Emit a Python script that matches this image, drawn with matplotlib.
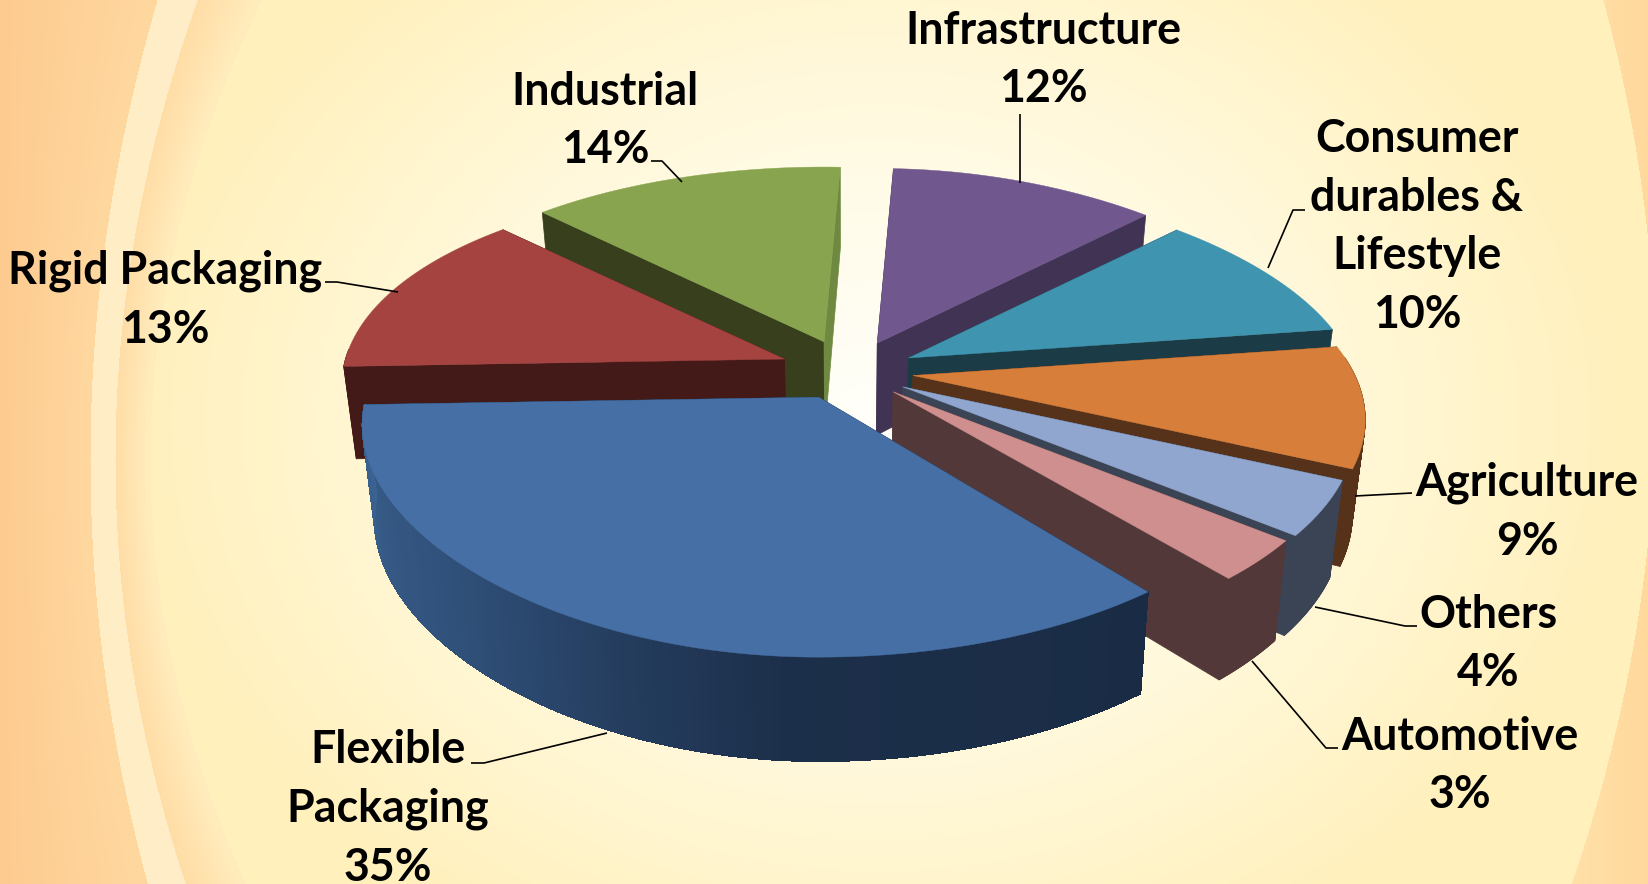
"""Exploded 3D pie of end-use segments, drawn by hand since matplotlib has no 3D pie."""

from __future__ import annotations

import matplotlib

matplotlib.use("Agg")
import matplotlib.pyplot as plt
import numpy as np
from matplotlib.collections import PolyCollection
from matplotlib.colors import LinearSegmentedColormap, to_rgb

# clockwise from the right-hand edge of the big slice
SEGMENTS = [
    "Flexible\nPackaging",
    "Rigid Packaging",
    "Industrial",
    "Infrastructure",
    "Consumer\ndurables &\nLifestyle",
    "Agriculture",
    "Others",
    "Automotive",
]
SHARES = [35, 13, 14, 12, 10, 9, 4, 3]

TOP_COLORS = ["#4670A5", "#A54341", "#88A44F", "#70578D", "#3F95B0", "#D77F3A", "#90A6CE", "#CE8F8E"]
WALL_COLORS = ["#1A2C45", "#431A18", "#373F1C", "#413353", "#1B3C47", "#56321A", "#3B4454", "#53383A"]
END_FACE_COLORS = ["#1A2C45", "#431A18", "#6F8A40", "#413353", "#1B3C47", "#56321A", "#3B4454", "#53383A"]

LABEL_POS = [(388, 809), (165, 300), (605, 121), (1043, 60), (1417, 227), (1527, 512), (1488, 644), (1460, 766)]

LEADERS = [
    [(471, 763), (484, 763), (607, 733)],
    [(325, 282), (337, 282), (398, 292)],
    [(651, 161), (662, 161), (682, 182)],
    [(1020, 114), (1020, 183)],
    [(1305, 210), (1293, 210), (1268, 268)],
    [(1412, 493), (1355, 496)],
    [(1417, 626), (1405, 626), (1315, 607)],
    [(1338, 748), (1326, 748), (1252, 661)],
]

WIDTH, HEIGHT = 1649, 884
CENTER = (847, 370)
START_ANGLE = 52
EXPLODE = 0.145
BASE_SCALE = 0.975


def rim_offset(t, scale=1.0):
    """Screen offset of a rim point at angle t (degrees clockwise from 3 o'clock)."""
    # the right and back of the original are slightly rotated against the front
    t = t - 2.5 * np.clip((t - 225) / 45, 0, 1)
    t = np.radians(t)
    u, v = np.cos(t), np.sin(t)
    rx = np.where(u >= 0, 442 + 98 * v, 439 + 59.5 * v) * scale
    return u * rx, v * 209 / (1 - 0.196 * v)


def depth(t):
    return 92 * (1 + 0.13 * np.sin(np.radians(t)))


def drop(x, y, d):
    """Project a top point down to the base, which sits slightly further away."""
    return CENTER[0] + (x - CENTER[0]) * BASE_SCALE, y + d


def background():
    yy, xx = np.mgrid[0:HEIGHT, 0:WIDTH]
    d = np.hypot((xx - 880) / 750, (yy - 420) / 600)
    stops = [0, 0.35, 0.7, 1.0]
    img = np.stack(
        [np.interp(d, stops, [to_rgb(c)[i] for c in ("#FFFFFA", "#FFFCEA", "#FFF6D2", "#FFF0BC")]) for i in range(3)],
        axis=-1,
    )

    def paint(mask, left, right, axis_vals):
        frac = np.clip(axis_vals, 0, 1)[..., None]
        img[mask] = (np.array(to_rgb(left)) * (1 - frac) + np.array(to_rgb(right)) * frac)[mask]

    # swooshes on the left
    parab = (yy - 459) ** 2
    inner = 150 + 5.3e-4 * parab
    stripe_r = 115 + 3.9e-4 * parab
    stripe_l = 90 + 3.18e-4 * parab
    paint(xx < inner, "#FFDDA6", "#FFEDBE", (xx - stripe_r) / (inner - stripe_r))
    paint(xx < stripe_r, "#FFECC4", "#FFEEC8", xx / 200)
    paint(xx < stripe_l, "#FDCB90", "#FFD8A0", xx / stripe_l)

    # and on the right
    right = 1655.6 - 3.46e-4 * (yy - 390) ** 2
    paint(xx > right, "#FFE2AA", "#FFD89C", (xx - 1560) / 90)
    return img


def draw_slice(ax, apex, t0, t1, top, wall, end_face, gradient=None, scale=1.0):
    ts = np.linspace(t0, t1, 120)
    dx, dy = rim_offset(ts, scale)
    xs, ys = apex[0] + dx, apex[1] + dy
    bx, by = drop(xs, ys, depth(ts))
    ax_, ay_ = drop(apex[0], apex[1], depth(np.array([0.0]))[0])

    # radial cut faces first, then the curved wall, the top goes last
    ax.fill([apex[0], xs[0], bx[0], ax_], [apex[1], ys[0], by[0], ay_], color=wall, lw=0.5, zorder=ax.zo)
    ax.fill([apex[0], xs[-1], bx[-1], ax_], [apex[1], ys[-1], by[-1], ay_], color=end_face, lw=0.5, zorder=ax.zo)

    # only the part of the curved wall that faces the viewer
    front = np.sin(np.radians(ts)) > -0.05
    idx = np.flatnonzero(front[:-1] & front[1:])
    if len(idx):
        quads = [
            [(xs[i], ys[i]), (xs[i + 1], ys[i + 1]), (bx[i + 1], by[i + 1]), (bx[i], by[i])]
            for i in idx
        ]
        if gradient is None:
            ax.add_collection(PolyCollection(quads, facecolors=wall, edgecolors=wall, linewidths=0.5, zorder=ax.zo))
        else:
            colors = gradient(np.linspace(0, 1, len(quads)))
            # a plain outline underneath keeps the silhouette smooth
            outline = np.r_[np.c_[xs, ys], np.c_[bx, by][::-1]]
            ax.fill(outline[:, 0], outline[:, 1], color=colors[len(colors) // 2], lw=0.3, zorder=ax.zo)
            ax.add_collection(
                PolyCollection(quads, facecolors=colors, edgecolors=colors, linewidths=0.6, antialiaseds=False, zorder=ax.zo)
            )

    ax.fill(np.r_[apex[0], xs], np.r_[apex[1], ys], color=top, lw=0.3, zorder=ax.zo + 0.5)
    ax.zo += 1


def main() -> None:
    plt.rcParams["font.family"] = ["Lato", "DejaVu Sans"]
    fig = plt.figure(figsize=(WIDTH / 100, HEIGHT / 100), dpi=100)
    ax = fig.add_axes([0, 0, 1, 1])
    ax.imshow(background(), extent=(0, WIDTH, HEIGHT, 0), zorder=0, interpolation="bilinear")
    ax.set_xlim(0, WIDTH)
    ax.set_ylim(HEIGHT, 0)
    ax.axis("off")
    ax.zo = 2

    shares = np.array(SHARES, dtype=float)
    edges = START_ANGLE + np.r_[0, np.cumsum(shares)] / shares.sum() * 360
    mids = (edges[:-1] + edges[1:]) / 2

    # painter's order: slices furthest back first
    order = np.argsort(np.sin(np.radians(mids)))
    flex_grad = LinearSegmentedColormap.from_list("flex", ["#1A2C45", "#1C2F4A", "#2F4F78", "#3B6290"])
    for i in order:
        m = np.radians(mids[i])
        apex = (
            CENTER[0] + EXPLODE * np.cos(m) * 463,
            CENTER[1] + EXPLODE * np.sin(m) * 207,
        )
        draw_slice(
            ax, apex, edges[i], edges[i + 1], TOP_COLORS[i], WALL_COLORS[i], END_FACE_COLORS[i],
            gradient=flex_grad if i == 0 else None,
            scale=1.03 if i == 0 else 1.0,
        )

    for name, share, pos, leader in zip(SEGMENTS, SHARES, LABEL_POS, LEADERS):
        ax.text(
            pos[0], pos[1], f"{name}\n{share}%", ha="center", va="center", ma="center",
            fontsize=32.2, fontweight="bold", color="black", linespacing=1.49, zorder=50,
        )
        lx, ly = zip(*leader)
        ax.plot(lx, ly, color="black", lw=1.2, zorder=49, solid_capstyle="butt")

    fig.savefig("out.png", dpi=100)
    plt.close(fig)


if __name__ == "__main__":
    main()
